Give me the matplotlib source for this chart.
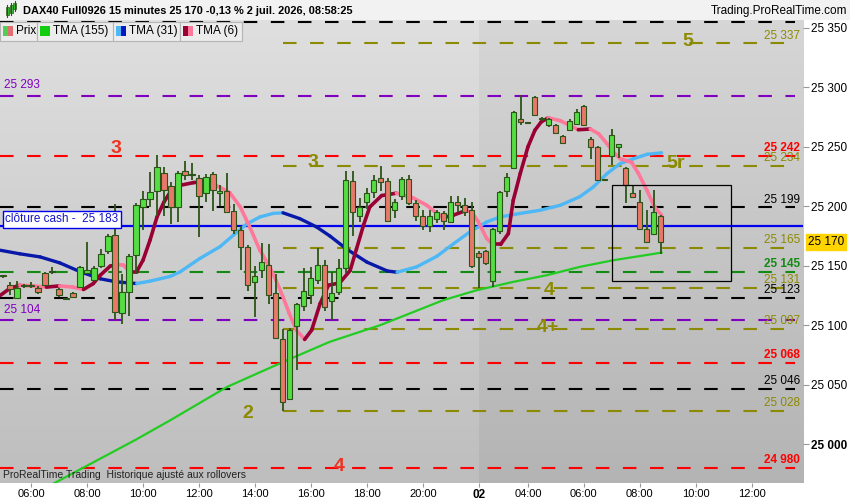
import numpy as np
import matplotlib.pyplot as plt
from matplotlib.patches import Rectangle
from matplotlib.collections import LineCollection

plt.rcParams['font.family'] = ['Liberation Sans', 'DejaVu Sans']

# 15 minute candles, index 0 = first visible bar
opens = [25141, 25134, 25123, 25133, 25134, 25131, 25144, 25145, 25130, 25122,
         25127, 25132, 25144, 25138, 25150, 25162, 25176, 25110, 25128, 25159,
         25199, 25206, 25213, 25228, 25217, 25199, 25230, 25227, 25224, 25211,
         25227, 25211, 25213, 25196, 25180, 25166, 25136, 25146, 25151, 25127,
         25088, 25038, 25099, 25116, 25125, 25138, 25151, 25120, 25128, 25148,
         25221, 25192, 25204, 25212, 25224, 25221, 25197, 25209, 25223, 25203,
         25192, 25183, 25189, 25194, 25187, 25204, 25201, 25197, 25161, 25162,
         25137, 25179, 25213, 25232, 25273, 25270, 25292, 25273, 25268, 25268,
         25259, 25264, 25269, 25284, 25257, 25250, 25222, 25242, 25250, 25232,
         25211, 25204, 25181, 25177, 25192]
highs = [25142, 25136, 25137, 25135, 25136, 25133, 25145, 25149, 25131, 25123,
         25128, 25150, 25170, 25150, 25164, 25177, 25202, 25143, 25160, 25203,
         25213, 25229, 25243, 25233, 25220, 25230, 25238, 25236, 25226, 25227,
         25229, 25218, 25228, 25202, 25183, 25167, 25150, 25169, 25168, 25143,
         25097, 25098, 25119, 25148, 25149, 25165, 25155, 25145, 25156, 25230,
         25230, 25207, 25215, 25226, 25234, 25224, 25206, 25225, 25226, 25205,
         25197, 25197, 25197, 25196, 25209, 25209, 25207, 25204, 25162, 25163,
         25182, 25213, 25228, 25280, 25294, 25271, 25293, 25275, 25274, 25269,
         25260, 25273, 25282, 25285, 25258, 25251, 25223, 25265, 25252, 25233,
         25218, 25214, 25197, 25214, 25193]
lows = [25140, 25125, 25122, 25131, 25131, 25126, 25133, 25143, 25124, 25121,
        25123, 25131, 25143, 25137, 25148, 25160, 25104, 25101, 25108, 25143,
        25180, 25199, 25192, 25192, 25185, 25187, 25222, 25222, 25174, 25204,
        25196, 25200, 25195, 25177, 25146, 25129, 25107, 25140, 25118, 25088,
        25028, 25037, 25062, 25112, 25118, 25135, 25112, 25104, 25125, 25144,
        25175, 25187, 25198, 25207, 25213, 25188, 25190, 25205, 25201, 25188,
        25180, 25178, 25186, 25180, 25186, 25195, 25192, 25148, 25131, 25151,
        25132, 25177, 25208, 25231, 25268, 25269, 25277, 25272, 25267, 25261,
        25253, 25263, 25268, 25268, 25240, 25221, 25221, 25235, 25241, 25203,
        25207, 25181, 25169, 25176, 25160]
closes = [25141, 25130, 25131, 25134, 25133, 25128, 25134, 25145, 25125, 25122,
          25124, 25149, 25146, 25148, 25160, 25175, 25111, 25128, 25158, 25201,
          25206, 25212, 25233, 25214, 25199, 25228, 25226, 25226, 25209, 25225,
          25214, 25213, 25195, 25180, 25166, 25134, 25141, 25153, 25125, 25089,
          25035, 25096, 25118, 25129, 25140, 25151, 25115, 25127, 25148, 25222,
          25195, 25199, 25211, 25222, 25220, 25188, 25204, 25223, 25203, 25192,
          25183, 25192, 25195, 25188, 25204, 25201, 25195, 25150, 25157, 25152,
          25181, 25212, 25225, 25279, 25271, 25270, 25277, 25274, 25273, 25262,
          25253, 25272, 25279, 25268, 25250, 25222, 25222, 25260, 25252, 25218,
          25208, 25181, 25170, 25195, 25170]

# moving averages (bar index, price)
tma6_x = [-0.4, 1, 2.4, 4.3, 6.2, 8.1, 10, 11.5, 12.9, 13.9, 15.3, 16.2, 17.2, 18.1,
          19.1, 20, 21, 22, 23, 24, 25.3, 27.2, 29.1, 31, 32.4, 33.9, 35.3, 36.7,
          38.1, 39, 40, 40.9, 41.9, 43.1, 44.1, 45.3, 46.5, 48.1, 49.6, 50.5, 51.5,
          52.4, 54.1, 56.2, 58.6, 60.5, 62, 62.9, 64.3, 66.2, 67, 67.9, 69.1, 70,
          71.1, 72.2, 72.9, 73.9, 75, 76, 76.9, 77.9, 79.6, 81, 82.2, 83.9, 85.1,
          86.3, 87.2, 88.2, 89.8, 90.8, 92, 93.1, 94.1]
tma6_y = [25125, 25131, 25133.6, 25133, 25132, 25133, 25132, 25130, 25135, 25142,
          25149.6, 25151, 25150.5, 25145, 25145, 25154.6, 25171.4, 25191, 25203.6,
          25213, 25217.6, 25219.9, 25221, 25216, 25211.4, 25199.4, 25182, 25163,
          25149, 25137.8, 25123.8, 25109.8, 25095.8, 25088, 25095.8, 25118, 25133.6,
          25135.5, 25146, 25164, 25184, 25199.4, 25209, 25211, 25207, 25201, 25194,
          25190.5, 25192.4, 25196.6, 25195, 25187, 25173, 25168, 25168, 25177, 25205,
          25227.5, 25250, 25264, 25271, 25274.4, 25272, 25268, 25264.4, 25265, 25261,
          25252.6, 25245.6, 25240, 25237, 25227.5, 25213.4, 25199.4, 25192.4]
tma31_x = [-0.4, 2.4, 5.3, 8.1, 11, 13.9, 16.2, 19.1, 21, 23.9, 25.3, 28.1, 31, 32.9,
           34.8, 36.7, 38.6, 40, 42.4, 44.8, 46.7, 49.1, 52, 54.9, 56.3, 59.1, 62,
           64.4, 66.7, 69.1, 71, 73.9, 76.7, 79.6, 82.4, 84.3, 86.3, 88.2, 90.1, 92, 94.1]
tma31_y = [25163, 25160, 25157.4, 25152.4, 25145, 25139, 25136.4, 25135, 25137, 25141,
           25144.8, 25156, 25166, 25175.6, 25185, 25191, 25194, 25194.5, 25189.6,
           25182.6, 25175, 25164, 25153, 25145.6, 25144.5, 25149, 25158, 25168.6,
           25178.4, 25186.8, 25191, 25194, 25196.6, 25200.8, 25208, 25216, 25227.5,
           25236, 25240, 25243.7, 25245]
tma155_x = [7.3, 18.9, 23.9, 32, 40, 46.7, 53.9, 62.9, 67.7, 72.9, 77.7, 82.4, 87.2, 94.1]
tma155_y = [24967, 25003.4, 25020, 25048, 25069, 25086, 25100, 25121, 25129.4, 25136.4,
            25142, 25149, 25154.6, 25161]

# horizontal levels: price, colour, first bar, right label
level_price = [25355, 25337, 25293, 25242, 25234, 25199, 25165, 25145, 25131, 25123,
               25104, 25097, 25068, 25046, 25028, 24980]
level_color = ['black', '#8c8a00', '#8000c0', '#ff0000', '#8c8a00', 'black', '#8c8a00',
               '#138a13', '#8c8a00', 'black', '#8000c0', '#8c8a00', '#ff0000', 'black',
               '#8c8a00', '#ff0000']
level_start = [-1, 40, -1, -1, 40, -1, 40, -1, 40, -1, -1, 40, -1, -1, 40, -1]
level_label = ['', '25 337', '', '25 242', '25 234', '25 199', '25 165', '25 145',
               '25 131', '25 123', '', '25 097', '25 068', '25 046', '25 028', '24 980']
cash_close = 25183
last_price = 25170

# wave annotations: text, bar index, price, colour
wave_text = ['3', '3', '2', '4', '4', '4+', '5', '5r']
wave_x = [16.1, 44.3, 35, 48.1, 78, 77.9, 97.9, 96.1]
wave_y = [25249, 25237, 25026, 24981, 25129, 25098, 25339, 25236]
wave_color = ['#ee3322', '#8c8a00', '#8c8a00', '#ee3322', '#8c8a00', '#8c8a00',
              '#8c8a00', '#8c8a00']

xtick_pos = [4, 12, 20, 28, 36, 44, 52, 60, 68, 75, 83, 91, 99, 107]
xtick_lab = ['06:00', '08:00', '10:00', '12:00', '14:00', '16:00', '18:00', '20:00',
             '02', '04:00', '06:00', '08:00', '10:00', '12:00']
ytick_pos = [25000, 25050, 25100, 25150, 25200, 25250, 25300, 25350]
ytick_lab = ['25 000', '25 050', '25 100', '25 150', '25 200', '25 250', '25 300', '25 350']

XMIN, XMAX = -0.43, 114.3
YMIN, YMAX = 24967.2, 25356.7
DAY2 = 68

fig = plt.figure(figsize=(8.5, 5), dpi=100)
fig.patch.set_facecolor('white')
ax = fig.add_axes([0, 17 / 500, 803 / 850, 463 / 500])


def fpx(x, y):
    return x / 850, 1 - y / 500


# background gradients (two sessions)
g = np.linspace(0, 1, 200)[:, None, None]
img1 = 0.875 + (0.745 - 0.875) * g * np.ones((1, 1, 3))
img2 = 0.84 + (0.705 - 0.84) * g * np.ones((1, 1, 3))
ax.imshow(img1, extent=[XMIN, DAY2, YMIN, YMAX], aspect='auto', zorder=0, origin='upper')
ax.imshow(img2, extent=[DAY2, XMAX, YMIN, YMAX], aspect='auto', zorder=0, origin='upper')

# levels
for p, c, s, lab in zip(level_price, level_color, level_start, level_label):
    x0 = XMIN if s < 0 else s
    ax.plot([x0, 113.2], [p, p], color=c, lw=1.5, dashes=(6.5, 6.5), zorder=2)
    if lab:
        bold = c in ('#ff0000', '#138a13')
        ax.text(113.9, p + 1.6, lab, color=c, fontsize=8.5, ha='right', va='bottom',
                fontweight='bold' if bold else 'normal', zorder=6)
ax.text(0.2, 25293 + 4, '25 293', color='#8000c0', fontsize=8.5, va='bottom', zorder=6)
ax.text(0.2, 25104 + 4, '25 104', color='#8000c0', fontsize=8.5, va='bottom', zorder=6)

# cash close
ax.axhline(cash_close, color='#0000ee', lw=1.6, zorder=3)
ax.text(0.3, cash_close + 6, 'clôture cash -  25 183', color='#1414c8', fontsize=8.5,
        va='center', zorder=7,
        bbox=dict(boxstyle='square,pad=0.2', fc='white', ec='#0000ee', lw=1))

# moving averages
ax.plot(tma155_x, tma155_y, color='#22cc22', lw=1.6, zorder=4)


def two_tone(xs, ys, up, down, lw):
    pts = np.column_stack([xs, ys])
    segs = np.stack([pts[:-1], pts[1:]], axis=1)
    cols = [up if b[1] >= a[1] else down for a, b in zip(pts[:-1], pts[1:])]
    ax.add_collection(LineCollection(segs, colors=cols, linewidths=lw,
                                     capstyle='round', joinstyle='round', zorder=5))


two_tone(tma31_x, tma31_y, '#4db8f5', '#0818a8', 2.4)

# candles
idx = np.arange(len(closes))
o, h, l, c = map(np.array, (opens, highs, lows, closes))
ax.vlines(idx, l, h, color='#2d5418', lw=1.3, zorder=6)
up = c >= o
body = np.maximum(np.abs(c - o), 0.8)
ax.bar(idx, body, bottom=np.minimum(o, c), width=0.72,
       color=np.where(up, '#55dd44', '#e8786a'), edgecolor='#2d5418', linewidth=0.8, zorder=7)

two_tone(tma6_x, tma6_y, '#990033', '#ff7799', 2.6)

# box around recent bars
ax.add_patch(Rectangle((87, 25137), 17, 80.6, fill=False, ec='black', lw=0.9, zorder=8))

for t, x, y, col in zip(wave_text, wave_x, wave_y, wave_color):
    ax.text(x, y, t, color=col, fontsize=14, fontweight='bold', ha='center', va='center',
            zorder=9)

ax.set_xlim(XMIN, XMAX)
ax.set_ylim(YMIN, YMAX)
for sp in ax.spines.values():
    sp.set_visible(False)
ax.yaxis.tick_right()
ax.set_yticks(ytick_pos)
ax.set_yticklabels(ytick_lab)
ax.tick_params(axis='y', length=4, color='#999999', pad=2, labelsize=8.5)
ax.get_yticklabels()[0].set_fontweight('bold')
ax.set_xticks(xtick_pos)
ax.set_xticklabels(xtick_lab)
ax.tick_params(axis='x', length=3, color='#999999', pad=1.5, labelsize=8)
for lab in ax.get_xticklabels():
    if lab.get_text() == '02':
        lab.set_fontweight('bold')
        lab.set_fontsize(8.5)

# last price tag
ax.annotate('25 170', xy=(1.006, last_price), xycoords=('axes fraction', 'data'),
            fontsize=8.5, va='center', ha='left', zorder=10, annotation_clip=False,
            bbox=dict(boxstyle='square,pad=0.15', fc='#ffd400', ec='#ffd400'))

# header
fig.add_artist(Rectangle((0, 1 - 20 / 500), 1, 20 / 500, transform=fig.transFigure,
                         fc='#f2f2f2', ec='none', zorder=0))
for xi, yb, yt, col in [(7, 7, 15, '#33bb33'), (11, 5, 13, '#33bb33'), (15, 3, 9, '#33bb33')]:
    fig.add_artist(plt.Line2D([xi / 850, xi / 850], [1 - (yt + 2) / 500, 1 - (yb - 2) / 500],
                              transform=fig.transFigure, color='#2d5418', lw=0.8))
    fig.add_artist(Rectangle(fpx(xi - 1.5, yt), 3 / 850, (yt - yb) / 500,
                             transform=fig.transFigure, fc=col, ec='#2d5418', lw=0.5))
fig.text(*fpx(23, 11), 'DAX40 Full0926 15 minutes 25 170 -0,13 % 2 juil. 2026, 08:58:25',
         fontsize=7.9, fontweight='bold', va='center', ha='left')
fig.text(*fpx(847, 11), 'Trading.ProRealTime.com', fontsize=8.5, va='center', ha='right')

# legend strip
legend_items = [('Prix', 0, 37, '#55cc55', '#e07070'),
                ('TMA (155)', 37, 113, '#11cc11', '#11cc11'),
                ('TMA (31)', 113, 180, '#4db8f5', '#0818c0'),
                ('TMA (6)', 180, 242, '#990033', '#ff7799')]
for name, x0, x1, c1, c2 in legend_items:
    fig.add_artist(Rectangle(fpx(x0, 41), (x1 - x0) / 850, 19 / 500, transform=fig.transFigure,
                             fc='#ececec', ec='#b4b4b4', lw=0.8, zorder=20))
    fig.add_artist(Rectangle(fpx(x0 + 3, 36), 5 / 850, 10 / 500, transform=fig.transFigure,
                             fc=c1, ec='none', zorder=21))
    fig.add_artist(Rectangle(fpx(x0 + 8, 36), 5 / 850, 10 / 500, transform=fig.transFigure,
                             fc=c2, ec='none', zorder=21))
    fig.text(*fpx(x0 + 16, 31), name, fontsize=8.5, va='center', ha='left', zorder=22)

fig.text(*fpx(3, 475), 'ProRealTime Trading  Historique ajusté aux rollovers',
         fontsize=7.5, color='#222222', va='center', ha='left', zorder=22)

fig.savefig('out.png', dpi=100)
